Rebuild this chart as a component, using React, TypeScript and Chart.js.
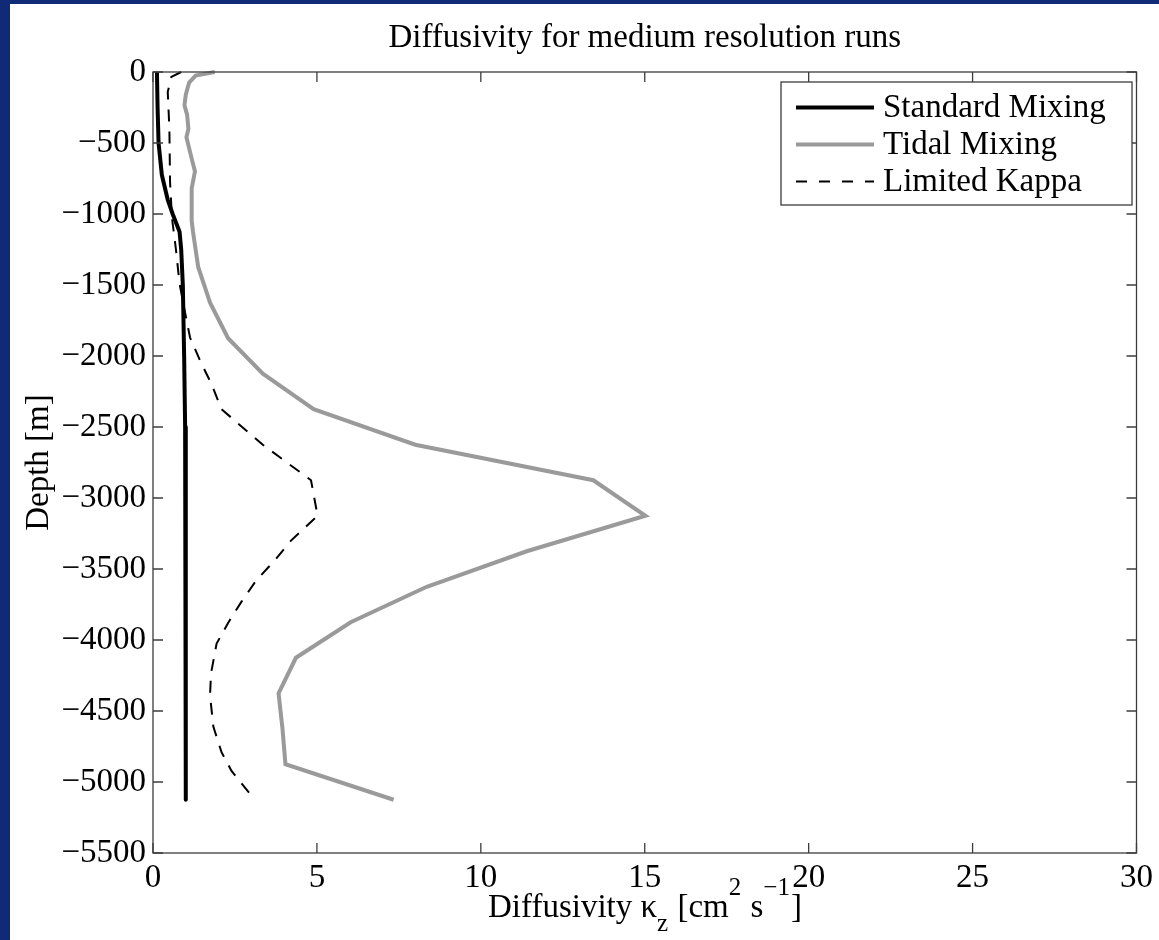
import React, { useEffect, useRef } from 'react';
import { Chart, registerables } from 'chart.js';

Chart.register(...registerables);

// ---------- data ----------
const standardDepth = [0, -250, -500, -725, -900, -1000, -1125, -1250, -1500, -2000, -2500, -3000, -5125];
const standardKappa = [0.12, 0.14, 0.17, 0.27, 0.45, 0.6, 0.81, 0.86, 0.91, 0.95, 0.98, 1.0, 1.0];

const tidalDepth = [0, -25, -75, -160, -235, -300, -400, -460, -610, -700, -820, -1050, -1125, -1375, -1625, -1875, -2125, -2375, -2625, -2875, -3125, -3375, -3625, -3875, -4125, -4375, -4625, -4875, -5125];
const tidalKappa = [1.88, 1.3, 1.1, 1.0, 0.96, 1.04, 1.08, 1.02, 1.18, 1.28, 1.18, 1.18, 1.22, 1.38, 1.74, 2.29, 3.35, 4.9, 8.0, 13.43, 15.02, 11.4, 8.35, 6.03, 4.36, 3.83, 3.95, 4.04, 7.34];

const limitedDepth = [0, -35, -140, -400, -775, -1030, -1250, -1490, -1720, -1870, -2030, -2200, -2375, -2625, -2875, -3125, -3300, -3440, -3580, -3730, -3880, -4025, -4235, -4390, -4610, -4790, -4920, -5125];
const limitedKappa = [0.86, 0.56, 0.45, 0.5, 0.52, 0.58, 0.7, 0.81, 1.0, 1.13, 1.43, 1.79, 2.09, 3.35, 4.82, 5.02, 4.21, 3.71, 3.15, 2.7, 2.29, 1.94, 1.77, 1.74, 1.84, 2.09, 2.39, 3.1];

const seriesNames = ['Standard Mixing', 'Tidal Mixing', 'Limited Kappa'];
const xTicks = [0, 5, 10, 15, 20, 25, 30];
const yTicks = [0, -500, -1000, -1500, -2000, -2500, -3000, -3500, -4000, -4500, -5000, -5500];
const titleText = 'Diffusivity for medium resolution runs';
const yAxisLabel = 'Depth [m]';
const xLabelParts = [
  { t: 'Diffusivity \u03ba', k: 'n' },
  { t: 'z', k: 'sub' },
  { t: ' [cm', k: 'n' },
  { t: '2', k: 'sup' },
  { t: ' s', k: 'n' },
  { t: '\u22121', k: 'sup' },
  { t: ']', k: 'n' },
];

// ---------- styles ----------
const W = 1159;
const H = 940;
const FONT = '"Liberation Serif", "Times New Roman", Times, serif';
const NAVY = '#112a78';
const AXIS = '#3c3c3c';
const GRAY = '#9a9a9a';

const toPoints = (xs: number[], ys: number[]) => xs.map((x, i) => ({ x, y: ys[i] }));

const decorPlugin = {
  id: 'decor',
  beforeDraw(chart: any) {
    const ctx = chart.ctx;
    ctx.save();
    ctx.fillStyle = NAVY;
    ctx.fillRect(0, 0, W, H);
    ctx.fillStyle = '#ffffff';
    ctx.fillRect(10, 4, W - 10, H - 4);
    ctx.restore();
  },
  afterDraw(chart: any) {
    const ctx = chart.ctx;
    const a = chart.chartArea;
    const sx = chart.scales.x;
    const sy = chart.scales.y;
    ctx.save();
    // box
    ctx.strokeStyle = AXIS;
    ctx.lineWidth = 1.3;
    ctx.strokeRect(a.left, a.top, a.right - a.left, a.bottom - a.top);
    // inward ticks
    ctx.beginPath();
    xTicks.forEach((v) => {
      const p = sx.getPixelForValue(v);
      ctx.moveTo(p, a.bottom);
      ctx.lineTo(p, a.bottom - 10);
      ctx.moveTo(p, a.top);
      ctx.lineTo(p, a.top + 10);
    });
    yTicks.forEach((v) => {
      const p = sy.getPixelForValue(v);
      ctx.moveTo(a.left, p);
      ctx.lineTo(a.left + 10, p);
      ctx.moveTo(a.right, p);
      ctx.lineTo(a.right - 10, p);
    });
    ctx.stroke();

    // title
    ctx.fillStyle = '#000';
    ctx.font = `33px ${FONT}`;
    ctx.textAlign = 'center';
    ctx.textBaseline = 'alphabetic';
    ctx.fillText(titleText, (a.left + a.right) / 2, 47);

    // y label
    ctx.save();
    ctx.translate(48, (a.top + a.bottom) / 2);
    ctx.rotate(-Math.PI / 2);
    ctx.textAlign = 'center';
    ctx.textBaseline = 'alphabetic';
    ctx.font = `33px ${FONT}`;
    ctx.fillText(yAxisLabel, 0, 0);
    ctx.restore();

    // x label with sub/superscripts
    const bigFont = `33px ${FONT}`;
    const smallFont = `25px ${FONT}`;
    let total = 0;
    const widths = xLabelParts.map((p) => {
      ctx.font = p.k === 'n' ? bigFont : smallFont;
      const w = ctx.measureText(p.t).width;
      total += w;
      return w;
    });
    let x = 488;
    const base = 917;
    ctx.textAlign = 'left';
    ctx.textBaseline = 'alphabetic';
    xLabelParts.forEach((p, i) => {
      ctx.font = p.k === 'n' ? bigFont : smallFont;
      const dy = p.k === 'sub' ? 14 : p.k === 'sup' ? -22 : 0;
      ctx.fillText(p.t, x, base + dy);
      x += widths[i] + (p.k === 'n' ? 0 : 1);
    });

    // legend
    const lx0 = 781, lx1 = 1132, ly0 = 82, ly1 = 205;
    ctx.fillStyle = '#ffffff';
    ctx.fillRect(lx0, ly0, lx1 - lx0, ly1 - ly0);
    ctx.strokeStyle = AXIS;
    ctx.lineWidth = 1.3;
    ctx.strokeRect(lx0, ly0, lx1 - lx0, ly1 - ly0);
    const baselines = [117, 154, 191];
    const styles = [
      { c: '#000', w: 4, d: [] as number[] },
      { c: GRAY, w: 4, d: [] as number[] },
      { c: '#000', w: 2, d: [11, 12] },
    ];
    seriesNames.forEach((name, i) => {
      const ly = baselines[i] - 9.5;
      ctx.beginPath();
      ctx.strokeStyle = styles[i].c;
      ctx.lineWidth = styles[i].w;
      ctx.setLineDash(styles[i].d);
      ctx.moveTo(796, ly);
      ctx.lineTo(874, ly);
      ctx.stroke();
      ctx.setLineDash([]);
      ctx.fillStyle = '#000';
      ctx.font = `33px ${FONT}`;
      ctx.textAlign = 'left';
      ctx.fillText(name, 883, baselines[i]);
    });
    ctx.restore();
  },
};

export default function App() {
  const ref = useRef<HTMLCanvasElement | null>(null);

  useEffect(() => {
    document.body.style.margin = '0';
    const canvas = ref.current;
    if (!canvas) return;
    const tickFont = { family: FONT, size: 33 };
    const chart = new Chart(canvas, {
      type: 'scatter',
      data: {
        datasets: [
          {
            label: seriesNames[0],
            data: toPoints(standardKappa, standardDepth),
            showLine: true,
            borderColor: '#000',
            borderWidth: 4,
            pointRadius: 0,
            fill: false,
            clip: false,
            borderJoinStyle: 'round',
          },
          {
            label: seriesNames[1],
            data: toPoints(tidalKappa, tidalDepth),
            showLine: true,
            borderColor: GRAY,
            borderWidth: 4,
            pointRadius: 0,
            fill: false,
            clip: false,
            borderJoinStyle: 'miter',
          },
          {
            label: seriesNames[2],
            data: toPoints(limitedKappa, limitedDepth),
            showLine: true,
            borderColor: '#000',
            borderWidth: 2,
            borderDash: [12, 10],
            pointRadius: 0,
            fill: false,
            clip: false,
          },
        ] as any,
      },
      options: {
        responsive: false,
        animation: false,
        devicePixelRatio: 1,
        layout: { padding: { left: 0, top: 72, right: 16, bottom: 0 } },
        plugins: {
          legend: { display: false },
          title: { display: false },
          tooltip: { enabled: false },
        },
        scales: {
          x: {
            type: 'linear',
            min: 0,
            max: 30,
            afterBuildTicks: (s: any) => {
              s.ticks = xTicks.map((v) => ({ value: v }));
            },
            afterFit: (s: any) => {
              s.height = 87;
            },
            grid: { display: false, drawTicks: false },
            border: { display: false },
            ticks: {
              font: tickFont,
              color: '#000',
              padding: 6,
              maxRotation: 0,
              autoSkip: false,
              callback: (v: any) => String(v),
            },
          },
          y: {
            type: 'linear',
            min: -5500,
            max: 0,
            afterBuildTicks: (s: any) => {
              s.ticks = yTicks.map((v) => ({ value: v }));
            },
            afterFit: (s: any) => {
              s.width = 153;
            },
            grid: { display: false, drawTicks: false },
            border: { display: false },
            ticks: {
              font: tickFont,
              color: '#000',
              padding: 7,
              autoSkip: false,
              callback: (v: any) => (Number(v) < 0 ? '\u2212' + Math.abs(Number(v)) : String(v)),
            },
          },
        },
      } as any,
      plugins: [decorPlugin],
    });
    return () => chart.destroy();
  }, []);

  return (
    <div style={{ position: 'fixed', left: 0, top: 0, width: W, height: H }}>
      <canvas ref={ref} width={W} height={H} style={{ display: 'block', width: W, height: H }} />
    </div>
  );
}
